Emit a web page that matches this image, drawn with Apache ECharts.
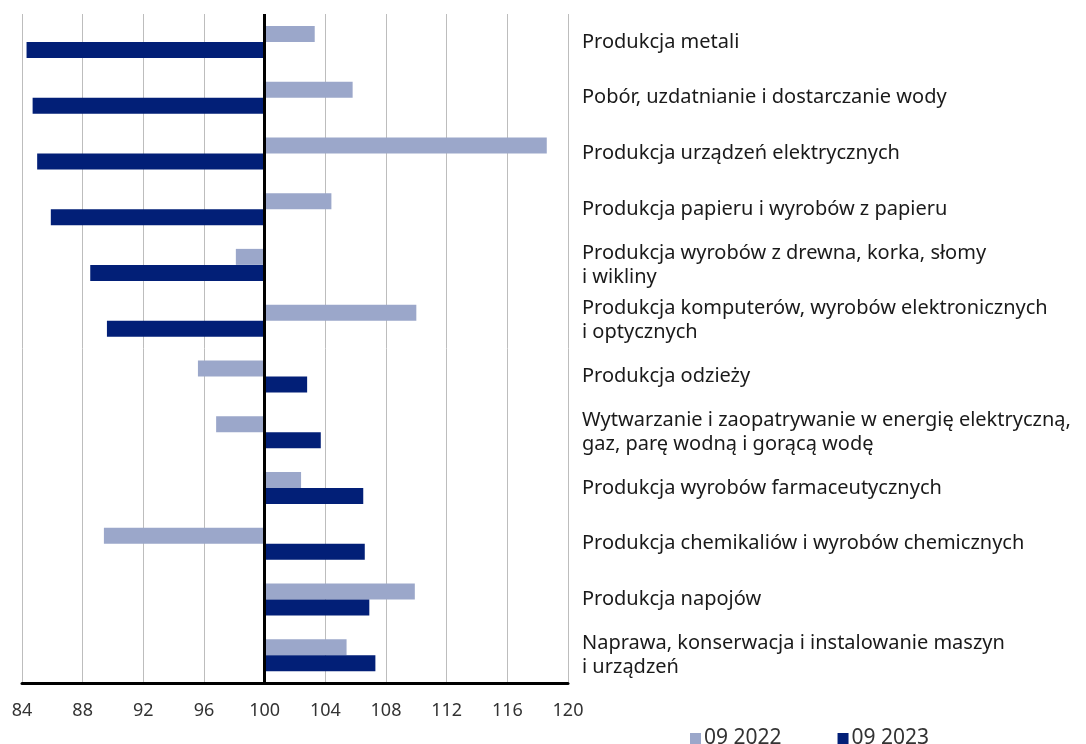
<!DOCTYPE html>
<html>
<head>
<meta charset="utf-8">
<script src="https://cdn.jsdelivr.net/npm/echarts@6/dist/echarts.min.js"></script>
<style>
	html, body { margin: 0; padding: 0; background: #fff; }
	#main { width: 1086px; height: 744px; }
</style>
</head>
<body>
<div id="main"></div>
<script>
	var categories = [
		'Produkcja metali',
		'Pobór, uzdatnianie i dostarczanie wody',
		'Produkcja urządzeń elektrycznych',
		'Produkcja papieru i wyrobów z papieru',
		'Produkcja wyrobów z drewna, korka, słomy\ni wikliny',
		'Produkcja komputerów, wyrobów elektronicznych\ni optycznych',
		'Produkcja odzieży',
		'Wytwarzanie i zaopatrywanie w energię elektryczną,\ngaz, parę wodną i gorącą wodę',
		'Produkcja wyrobów farmaceutycznych',
		'Produkcja chemikaliów i wyrobów chemicznych',
		'Produkcja napojów',
		'Naprawa, konserwacja i instalowanie maszyn\ni urządzeń'
	];
	var seriesNames = ['09 2022', '09 2023'];
	var values2022 = [103.3, 105.8, 118.6, 104.4, 98.1, 110.0, 95.6, 96.8, 102.4, 89.4, 109.9, 105.4];
	var values2023 = [84.3, 84.7, 85.0, 85.9, 88.5, 89.6, 102.8, 103.7, 106.5, 106.6, 106.9, 107.3];
	var axisMin = 84, axisMax = 120, axisStep = 4;
	var base = 100; // bars grow from 100

	function shift(arr) {
		return arr.map(function (v) { return +(v - base).toFixed(2); });
	}

	var font = 'Noto Sans';
	var myChart = echarts.init(document.getElementById('main'));
	var option = {
		color: ['#9ba7ca', '#021f77'],
		animation: false,
		textStyle: { fontFamily: font },
		grid: {
			left: 22,
			right: 518,
			top: 14,
			bottom: 61,
			containLabel: false
		},
		legend: {
			data: seriesNames,
			left: 685,
			top: 723,
			icon: 'rect',
			itemWidth: 11,
			itemHeight: 11,
			itemGap: 56,
			textStyle: { fontSize: 21, color: '#333', fontFamily: font, padding: [0, 0, 0, -2] }
		},
		xAxis: {
			type: 'value',
			min: axisMin - base,
			max: axisMax - base,
			interval: axisStep,
			axisLine: { show: true, lineStyle: { color: '#000', width: 3 } },
			axisTick: { show: false },
			axisLabel: {
				color: '#333',
				fontSize: 18,
				margin: 19,
				formatter: function (v) { return v + base; }
			},
			splitLine: { show: true, lineStyle: { color: '#bdbdbd', width: 1 } }
		},
		yAxis: {
			type: 'category',
			data: categories,
			inverse: true,
			position: 'right',
			axisLine: { show: false, onZero: false },
			axisTick: { show: false },
			axisLabel: {
				align: 'left',
				margin: 14,
				color: '#1a1a1a',
				fontSize: 20,
				lineHeight: 24
			}
		},
		series: [{
			name: seriesNames[0],
			type: 'bar',
			barWidth: 16,
			barGap: '0%',
			data: shift(values2022),
			markLine: {
				silent: true,
				symbol: 'none',
				label: { show: false },
				lineStyle: { color: '#000', width: 3, type: 'solid' },
				data: [{ xAxis: 0 }]
			}
		}, {
			name: seriesNames[1],
			type: 'bar',
			barWidth: 16,
			barGap: '0%',
			data: shift(values2023)
		}]
	};
	myChart.setOption(option);
</script>
</body>
</html>
